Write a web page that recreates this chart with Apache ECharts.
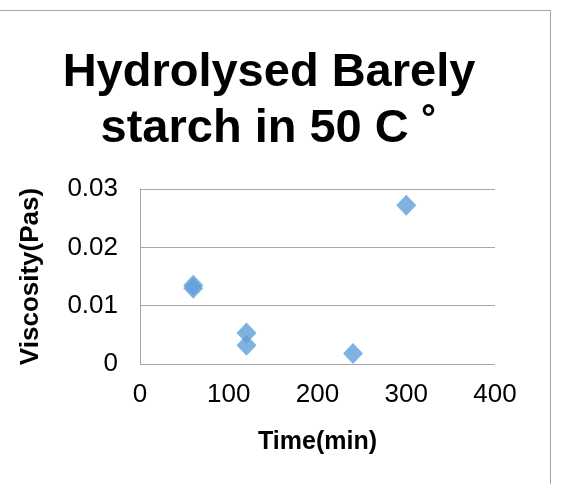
<!DOCTYPE html>
<html>
<head>
<meta charset="utf-8">
<script src="https://cdn.jsdelivr.net/npm/echarts@6/dist/echarts.min.js"></script>
<style>
  html, body { margin: 0; padding: 0; background: #fff; }
  #chart { width: 575px; height: 484px; }
</style>
</head>
<body>
<div id="chart"></div>
<script>
// data
var timeMin = [60, 60, 120, 120, 240, 300];
var viscosity = [0.0135, 0.013, 0.0053, 0.0032, 0.0018, 0.0272];
var yTicks = [0, 0.01, 0.02, 0.03];

var chart = echarts.init(document.getElementById('chart'));
var font = 'Liberation Sans, Arial, sans-serif';

chart.setOption({
  backgroundColor: '#fff',
  animation: false,
  title: {
    text: 'Hydrolysed Barely\nstarch in 50 C \u02DA',
    left: 264,
    top: 40,
    textAlign: 'center',
    textStyle: { fontFamily: font, fontSize: 47, fontWeight: 'bold', color: '#000', lineHeight: 56 }
  },
  grid: { left: 140, top: 189, width: 355, height: 175 },
  xAxis: {
    type: 'value',
    min: 0, max: 400, interval: 100,
    name: 'Time(min)',
    nameLocation: 'middle',
    nameGap: 66,
    nameTextStyle: { fontFamily: font, fontSize: 25, fontWeight: 'bold', color: '#000' },
    axisLine: { show: false },
    axisTick: { show: false },
    splitLine: { show: false },
    axisLabel: { fontFamily: font, fontSize: 26, color: '#000', margin: 18 }
  },
  yAxis: {
    type: 'value',
    min: 0, max: 0.03, interval: 0.01,
    name: 'Viscosity(Pas)',
    nameLocation: 'middle',
    nameGap: 96,
    nameTextStyle: { fontFamily: font, fontSize: 26, fontWeight: 'bold', color: '#000' },
    axisLine: { show: true, lineStyle: { color: '#a6a6a6', width: 1 } },
    axisTick: { show: false },
    splitLine: { show: true, lineStyle: { color: '#a6a6a6', width: 1 } },
    axisLabel: {
      fontFamily: font, fontSize: 26, color: '#000', margin: 22,
      formatter: function (v) {
        for (var i = 0; i < yTicks.length; i++) {
          if (Math.abs(v - yTicks[i]) < 1e-9) return String(yTicks[i]);
        }
        return '';
      }
    }
  },
  series: [{
    type: 'scatter',
    symbol: 'diamond',
    symbolSize: [20, 21],
    itemStyle: { color: '#5f9fd8' },
    data: timeMin.map(function (t, i) { return [t, viscosity[i]]; })
  }],
  graphic: [{
    type: 'rect',
    silent: true,
    shape: { x: -10, y: 10.5, width: 560.5, height: 500 },
    style: { fill: 'none', stroke: '#a6a6a6', lineWidth: 1 }
  }]
});
</script>
</body>
</html>
